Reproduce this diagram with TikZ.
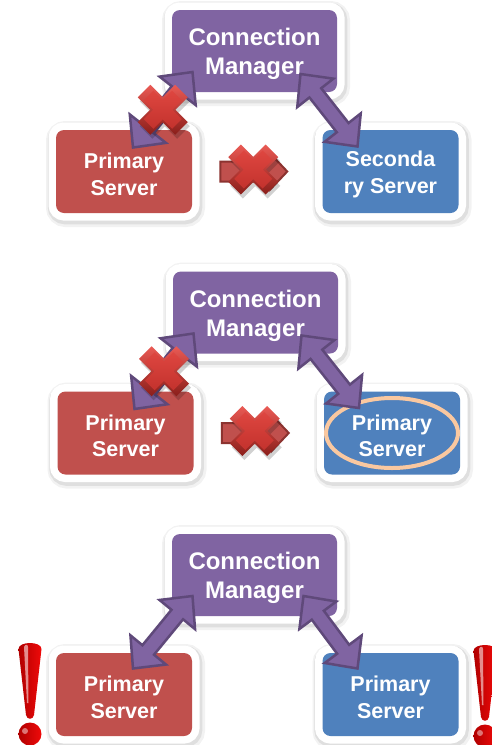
\documentclass[tikz,border=0pt]{standalone}
\usepackage{fontspec}
\setmainfont{Liberation Sans}
\usetikzlibrary{calc}

\definecolor{cmfill}{HTML}{8064A2}
\definecolor{arrline}{HTML}{5F497A}
\definecolor{redbox}{HTML}{C0504D}
\definecolor{bluebox}{HTML}{4F81BD}
\definecolor{peach}{HTML}{FAC8A0}
\definecolor{blockline}{HTML}{8C3330}
\definecolor{xlight}{HTML}{EA5A54}
\definecolor{xdark}{HTML}{8A1E1A}
\definecolor{xmidtop}{HTML}{DE4640}
\definecolor{xmidbot}{HTML}{C3322D}
\definecolor{bangred}{HTML}{F00A0A}
\definecolor{bangdark}{HTML}{B00000}

\tikzset{
  card/.style={rounded corners=8pt, inner sep=0pt, align=center, text=white,
    preaction={draw=black, opacity=0.05, line width=23pt,
      transform canvas={shift={(1.5pt,-2.5pt)}}},
    preaction={draw=black, opacity=0.08, line width=18.5pt,
      transform canvas={shift={(1pt,-2pt)}}},
    preaction={draw=white, line width=15pt}},
  mgr/.style={card, fill=cmfill, minimum width=165pt, minimum height=82pt,
    font=\bfseries\fontsize{24}{29}\selectfont},
  srv/.style={card, minimum width=136pt, minimum height=83pt,
    font=\bfseries\fontsize{21.5}{26.5}\selectfont},
  linkarrow/.style={fill=cmfill, draw=arrline, line width=2.5pt, line join=miter},
  blockarrow/.style={fill=redbox, draw=blockline, line width=2pt, line join=miter},
  ring/.style={draw=peach, line width=4pt},
  bang/.style={left color=bangdark, right color=bangred}
}

% taller first line so the label sits a little low in its box
\newcommand\mgrlabel{\rule{0pt}{23.5pt}Connection\\Manager}
\newcommand\srvlabel[2]{\rule{0pt}{21.5pt}#1\\#2}

% double-headed block arrow between two named points
\newcommand\dblarr[2]{%
  \coordinate (ha) at ($(#1)!24pt!(#2)$);
  \coordinate (hb) at ($(#2)!24pt!(#1)$);
  \draw[linkarrow] (#1) -- ($(ha)!23pt!90:(#2)$) -- ($(ha)!7.5pt!90:(#2)$)
    -- ($(hb)!7.5pt!-90:(#1)$) -- ($(hb)!23pt!-90:(#1)$) -- (#2)
    -- ($(hb)!23pt!90:(#1)$) -- ($(hb)!7.5pt!90:(#1)$)
    -- ($(ha)!7.5pt!-90:(#2)$) -- ($(ha)!23pt!-90:(#2)$) -- cycle;}

% outline of a cross with arm reach #1, #2 and notch #3
\newcommand\xshape[3]{(#3,0) -- (#1,#2) -- (#2,#1) -- (0,#3) -- (-#2,#1) -- (-#1,#2)
  -- (-#3,0) -- (-#1,-#2) -- (-#2,-#1) -- (0,-#3) -- (#2,-#1) -- (#1,-#2) -- cycle}

% bevelled red cross centred on a named point
\newcommand\redx[1]{%
  \begin{scope}[shift={(#1)}]
    \fill[black, opacity=0.18] [shift={(2,4)}] \xshape{25}{12.3}{12.7};
    \shade[top color=xlight, bottom color=xdark] \xshape{25}{12.3}{12.7};
    \shade[top color=xmidtop, bottom color=xmidbot] [scale=0.76] \xshape{25}{12.3}{12.7};
  \end{scope}}

% broken link arrow centred on a named point
\newcommand\brokenlink[1]{%
  \begin{scope}[shift={(#1)}]
    \draw[blockarrow] (-37,-10) -- (13,-10) -- (13,-18) -- (30,0) -- (13,18)
      -- (13,10) -- (-37,10) -- cycle;
  \end{scope}}

% exclamation mark with its bar top centred at x = #1, y = #2
\newcommand\alert[2]{%
  \begin{scope}[shift={(#1,#2)}]
    \shade[bang] (-11.5,6) .. controls (-11.5,-2) and (11.5,-2) .. (11.5,6)
      -- (4,72) .. controls (3,77) and (-3,77) .. (-4,72) -- cycle;
    \shade[bang] (0,91) circle [radius=11.5];
    \fill[white, opacity=0.55] (-6,4) .. controls (-5,1) and (-2,1) .. (-2,4)
      -- (-1.5,60) -- (-3,60) -- cycle;
    \fill[white, opacity=0.45] (-5,88) circle [radius=3];
  \end{scope}}

\begin{document}
\begin{tikzpicture}[x=1pt, y=-1pt]
  \useasboundingbox (0,0) rectangle (491,745);
  \fill[white] (0,0) rectangle (491,745);

  % ---------- stage 1: primary lost ----------
  \node[mgr] (cm1) at (254.5,51) {\mgrlabel};
  \node[srv, fill=redbox] (ps1) at (124,171.5) {\srvlabel{Primary}{Server}};
  \node[srv, fill=bluebox] (ss1) at (390.5,171.5) {\srvlabel{Seconda}{ry Server}};
  \coordinate (l1a) at ($(cm1)+(-62,21)$);
  \coordinate (l1b) at ($(ps1)+(9,-24)$);
  \coordinate (r1a) at ($(cm1)+(46,23)$);
  \coordinate (r1b) at ($(ss1)+(-33,-25)$);
  \dblarr{l1a}{l1b}
  \dblarr{r1a}{r1b}
  \coordinate (x1) at ($(l1a)!0.5!(l1b)$);
  \redx{x1}
  \coordinate (m1) at ($(ps1)!0.5!(ss1)$);
  \brokenlink{m1}
  \redx{$(m1)+(-4,-2)$}

  % ---------- stage 2: secondary promoted ----------
  \node[mgr] (cm2) at (255.5,312.5) {\mgrlabel};
  \node[srv, fill=redbox] (ps2) at (125.5,433) {\srvlabel{Primary}{Server}};
  \node[srv, fill=bluebox] (ss2) at (392,433) {\srvlabel{Primary}{Server}};
  \draw[ring] (ss2) ellipse [x radius=66, y radius=35];
  \coordinate (l2a) at ($(cm2)+(-62,21)$);
  \coordinate (l2b) at ($(ps2)+(9,-24)$);
  \coordinate (r2a) at ($(cm2)+(46,23)$);
  \coordinate (r2b) at ($(ss2)+(-33,-25)$);
  \dblarr{l2a}{l2b}
  \dblarr{r2a}{r2b}
  \coordinate (x2) at ($(l2a)!0.5!(l2b)$);
  \redx{x2}
  \coordinate (m2) at ($(ps2)!0.5!(ss2)$);
  \brokenlink{m2}
  \redx{$(m2)+(-4,-2)$}

  % ---------- stage 3: two primaries ----------
  \node[mgr] (cm3) at (254.5,575) {\mgrlabel};
  \node[srv, fill=redbox] (ps3) at (124,694.5) {\srvlabel{Primary}{Server}};
  \node[srv, fill=bluebox] (ss3) at (390.5,694.5) {\srvlabel{Primary}{Server}};
  \coordinate (l3a) at ($(cm3)+(-62,21)$);
  \coordinate (l3b) at ($(ps3)+(9,-26)$);
  \coordinate (r3a) at ($(cm3)+(49,21)$);
  \coordinate (r3b) at ($(ss3)+(-33,-26)$);
  \dblarr{l3a}{l3b}
  \dblarr{r3a}{r3b}
  \alert{30}{643}
  \alert{485}{645}
\end{tikzpicture}
\end{document}
